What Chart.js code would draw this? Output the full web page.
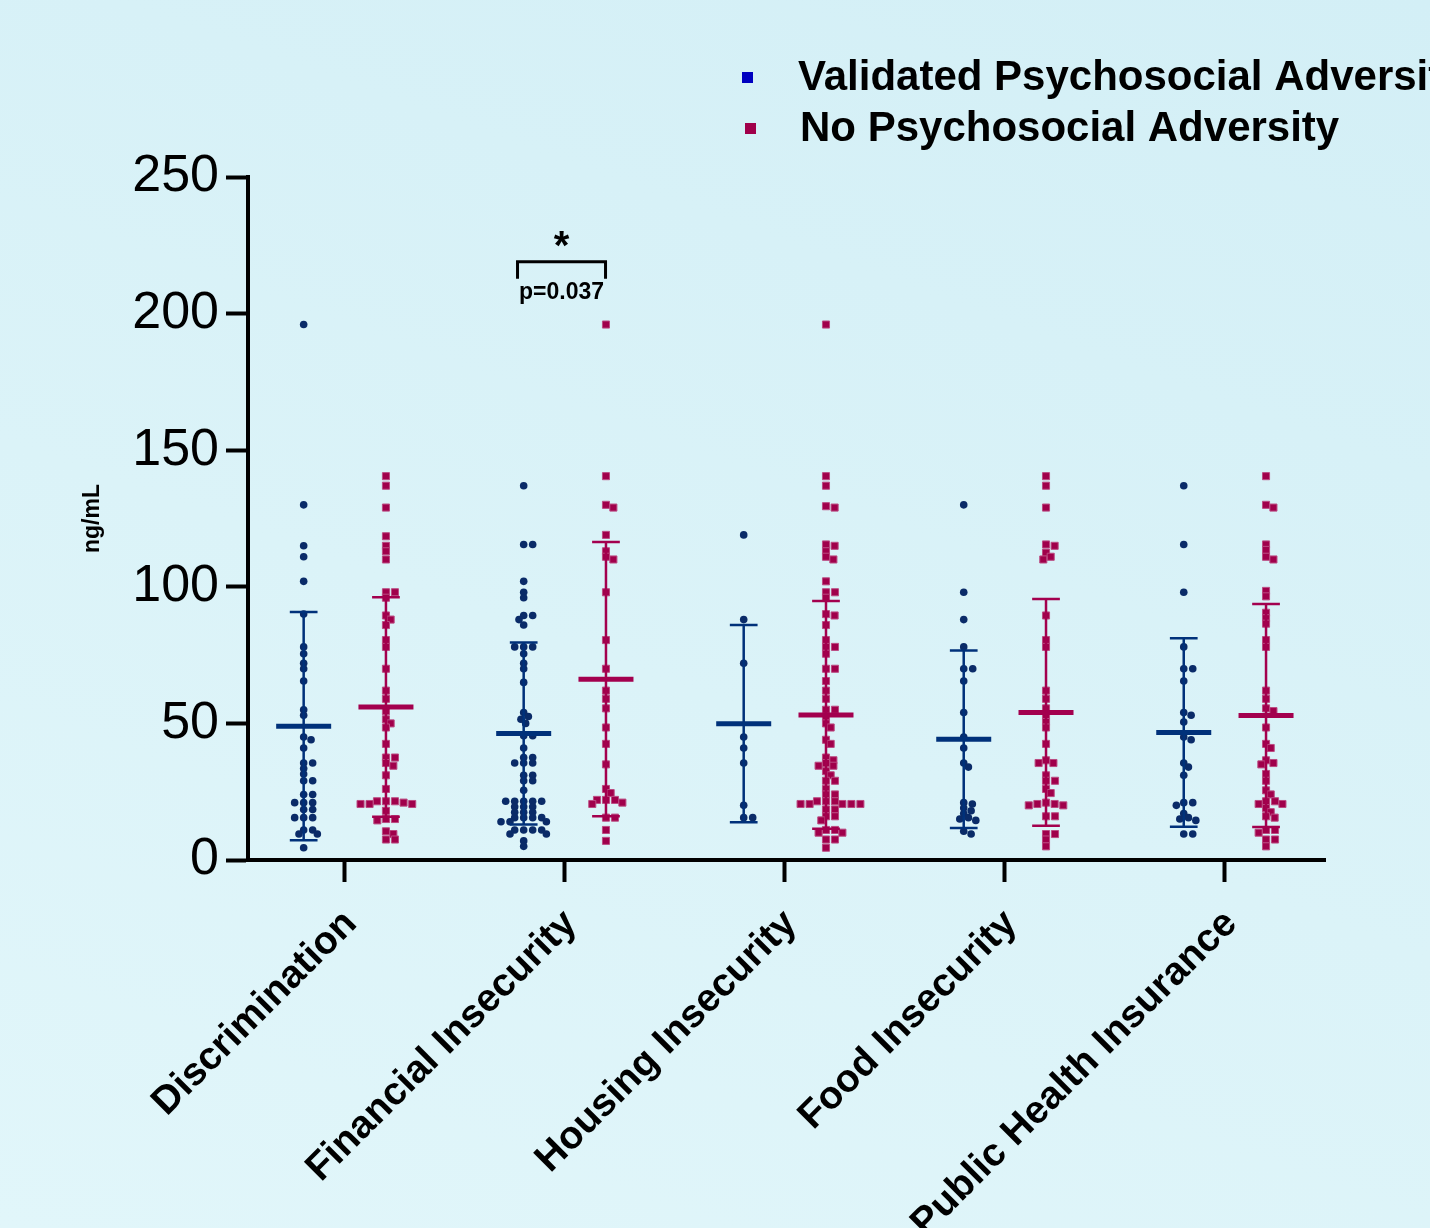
<!DOCTYPE html>
<html>
<head>
<meta charset="utf-8">
<script src="https://cdn.jsdelivr.net/npm/chart.js@4.4.1/dist/chart.umd.min.js"></script>
<style>
  html, body { margin: 0; padding: 0; }
  body {
    width: 1430px; height: 1228px; overflow: hidden;
    background: linear-gradient(200deg, #d3eff6 0%, #dbf3f8 55%, #e1f6fa 100%);
  }
  #wrap { position: relative; width: 1430px; height: 1228px; }
</style>
</head>
<body>
<div id="wrap"><canvas id="chart"></canvas></div>
<script>
// categories and group labels
const CATEGORIES = ['Discrimination', 'Financial Insecurity', 'Housing Insecurity', 'Food Insecurity', 'Public Health Insurance'];
const GROUP_LABELS = ['Validated Psychosocial Adversity', 'No Psychosocial Adversity'];
const Y_TICKS = [0, 50, 100, 150, 200, 250];

// ng/mL values, one array per category and group
const validatedDiscrimination = [196, 130, 115, 111, 102, 90, 78, 75.5, 72, 70, 65.5, 55, 53, 45, 44, 41, 35.5, 35.5, 33.5, 31.5, 29, 29, 24, 24, 21, 21, 21, 18.5, 18.5, 15.5, 15.5, 15.5, 11, 11, 9.5, 9.5, 4.5];
const noneDiscrimination = [140.5, 137, 129, 118.5, 115, 113, 110, 98, 98, 96, 89.5, 88, 86, 80.5, 78, 70, 62, 59, 54.5, 51.5, 50, 48.5, 42.5, 37.5, 37.5, 35.5, 34.5, 31, 26, 21.5, 21.5, 21.5, 21, 20.5, 20.5, 20.5, 18, 15, 15, 14.5, 10.5, 9.5, 7.5, 7.5];

const validatedFinancial = [137, 115.5, 115.5, 102, 98, 96, 89.5, 89.5, 88, 86, 78, 78, 78, 75.5, 72, 70, 65, 54, 52.5, 51.5, 50, 45.5, 45.5, 41, 37.5, 37.5, 35.5, 35.5, 35.5, 31, 31, 29, 29, 25.5, 21.5, 21.5, 21.5, 21.5, 21.5, 19.5, 19.5, 19.5, 17.5, 17.5, 17.5, 15.5, 15.5, 15.5, 15.5, 14, 14, 14, 11, 11, 11, 11, 9.5, 9.5, 7, 5];
const noneFinancial = [196, 140.5, 130, 129, 119, 113, 111, 110, 98, 80.5, 70, 62, 59, 55.5, 48.5, 42.5, 35, 26, 24.5, 22, 22, 22, 21, 20.5, 15.5, 15.5, 11, 7];

const validatedHousing = [119, 88, 72, 45, 41, 35.5, 20, 15.5, 15.5];
const noneHousing = [196, 140.5, 137, 129.5, 129, 115.5, 115, 113, 111, 110, 102, 98, 98, 96, 90, 89.5, 86, 80.5, 78, 78, 75.5, 70, 70, 65.5, 62, 59, 55, 55, 52, 50, 48.5, 44, 42.5, 37.5, 36.5, 35.5, 34.5, 34.5, 32.5, 31, 29, 29, 26, 24, 24, 21.5, 21.5, 21.5, 20.5, 20.5, 20.5, 20.5, 20.5, 18.5, 18.5, 16, 16, 14.5, 11, 11, 10, 10, 7.5, 7.5, 4.5];

const validatedFood = [130, 98, 88, 78, 70, 70, 65.5, 54, 45, 41, 35.5, 34, 21, 20.5, 19, 18, 17, 15.5, 15, 14.5, 10.5, 9.5];
const noneFood = [140.5, 137, 129, 115.5, 115, 112.5, 111, 110, 89.5, 80.5, 78, 62, 59, 55.5, 53, 50.5, 48.5, 42.5, 36.5, 35.5, 35.5, 31, 29, 29, 26, 24.5, 21, 20.5, 20.5, 20, 20, 16, 16, 9.5, 9.5, 7.5, 5];

const validatedPublic = [137, 115.5, 98, 78, 70, 70, 65.5, 54, 53, 50.5, 45, 44, 35.5, 34, 31, 21, 21, 20, 17, 15.5, 15, 14.5, 9.5, 9.5];
const nonePublic = [140.5, 130, 129, 115.5, 113.5, 111, 110, 98.5, 96.5, 90.5, 88.5, 86.5, 80.5, 78, 62, 59, 55.5, 54.5, 48.5, 42.5, 41, 36.5, 35.5, 35, 31.5, 29, 25.5, 24, 21.5, 21.5, 20.5, 20.5, 19, 17.5, 16, 15.5, 11, 11, 10, 7.5, 7.5, 5];

// mean and SD bars as drawn
const validatedMean = [49.0, 46.3, 49.9, 44.2, 46.7];
const validatedSD = [41.8, 33.3, 36.1, 32.5, 34.5];
const noneMean = [56.0, 66.2, 53.1, 54.0, 52.9];
const noneSD = [40.2, 50.2, 41.7, 41.5, 40.8];

const VALIDATED = [validatedDiscrimination, validatedFinancial, validatedHousing, validatedFood, validatedPublic];
const NONE = [noneDiscrimination, noneFinancial, noneHousing, noneFood, nonePublic];
const SERIES = [VALIDATED, NONE];
const MEANS = [validatedMean, noneMean];
const SDS = [validatedSD, noneSD];

// significance mark: Financial Insecurity
const SIG = { category: 1, y: 219, label: 'p=0.037' };

// look
const FONT = "'Liberation Sans', Arial, sans-serif";
const NARROW = "'Liberation Sans Narrow', 'Arial Narrow', 'Liberation Sans', Arial, sans-serif";
const DOT_COLORS = ['#0a2b68', '#a0004b'];
const BAR_COLORS = ['#00317a', '#a3004e'];
const LEGEND_COLORS = ['#0000c0', '#a0004a'];
const GROUP_OFFSET = [-0.187, 0.187];
const GAP_X = 9;
const GAP_Y = 4.8;

// beeswarm with an elliptical footprint: offsets in pixels, closest to the centre line
function swarm(values, yScale) {
  const pts = values.map(v => ({ y: yScale.getPixelForValue(v), x: 0 }));
  const order = pts.slice().sort((a, b) => a.y - b.y);
  const placed = [];
  const hits = (q, x, y) => ((q.x - x) / GAP_X) ** 2 + ((q.y - y) / GAP_Y) ** 2 < 0.999;
  for (const p of order) {
    const near = placed.filter(q => Math.abs(q.y - p.y) < GAP_Y);
    const cands = [0];
    near.forEach(q => {
      const dx = GAP_X * Math.sqrt(1 - ((q.y - p.y) / GAP_Y) ** 2);
      cands.push(q.x + dx, q.x - dx);
    });
    cands.sort((a, b) => Math.abs(a) - Math.abs(b));
    for (const c of cands) {
      if (!near.some(q => hits(q, c, p.y))) { p.x = c; break; }
    }
    placed.push(p);
  }
  return pts.map(p => p.x);
}

const meanSdPlugin = {
  id: 'meanSd',
  afterDatasetsDraw(chart) {
    const { ctx, scales: { x, y } } = chart;
    ctx.save();
    MEANS.forEach((means, g) => {
      ctx.strokeStyle = BAR_COLORS[g];
      means.forEach((m, i) => {
        const cx = x.getPixelForValue(i + GROUP_OFFSET[g]);
        const hw = x.getPixelForValue(0.125) - x.getPixelForValue(0);
        const cw = x.getPixelForValue(0.063) - x.getPixelForValue(0);
        const yTop = y.getPixelForValue(m + SDS[g][i]);
        const yBot = y.getPixelForValue(m - SDS[g][i]);
        const yM = y.getPixelForValue(m);
        ctx.lineWidth = 2.5;
        ctx.beginPath();
        ctx.moveTo(cx, yTop); ctx.lineTo(cx, yBot);
        ctx.moveTo(cx - cw, yTop); ctx.lineTo(cx + cw, yTop);
        ctx.moveTo(cx - cw, yBot); ctx.lineTo(cx + cw, yBot);
        ctx.stroke();
        ctx.lineWidth = 5;
        ctx.beginPath();
        ctx.moveTo(cx - hw, yM); ctx.lineTo(cx + hw, yM);
        ctx.stroke();
      });
    });
    ctx.restore();
  }
};

const sigPlugin = {
  id: 'sig',
  afterDraw(chart) {
    const { ctx, scales: { x, y } } = chart;
    const x1 = x.getPixelForValue(SIG.category - 0.215);
    const x2 = x.getPixelForValue(SIG.category + 0.185);
    const yb = y.getPixelForValue(SIG.y);
    const cx = (x1 + x2) / 2;
    ctx.save();
    ctx.strokeStyle = '#000';
    ctx.lineWidth = 3;
    ctx.beginPath();
    ctx.moveTo(x1, yb + 17); ctx.lineTo(x1, yb); ctx.lineTo(x2, yb); ctx.lineTo(x2, yb + 17);
    ctx.stroke();
    ctx.fillStyle = '#000';
    ctx.textAlign = 'center';
    ctx.textBaseline = 'middle';
    ctx.font = 'bold 40px ' + FONT;
    ctx.fillText('*', cx, yb - 14);
    ctx.font = 'bold 23px ' + NARROW;
    ctx.fillText(SIG.label, cx, yb + 31);
    ctx.restore();
  }
};

const legendPlugin = {
  id: 'customLegend',
  afterDraw(chart) {
    const { ctx } = chart;
    const rows = [{ sx: 742, y: 77, tx: 798 }, { sx: 745, y: 128, tx: 800 }];
    ctx.save();
    ctx.font = 'bold 42px ' + FONT;
    ctx.textBaseline = 'middle';
    chart.data.datasets.forEach((ds, g) => {
      const r = rows[g];
      ctx.fillStyle = LEGEND_COLORS[g];
      ctx.fillRect(r.sx, r.y - 5, 11, 11);
      ctx.fillStyle = '#000';
      ctx.fillText(ds.label, r.tx, r.y + 1);
    });
    ctx.restore();
  }
};

function buildData(g) {
  const pts = [];
  SERIES[g].forEach((vals, i) => vals.forEach(v => pts.push({ x: i + GROUP_OFFSET[g], y: v })));
  return pts;
}

const chart = new Chart(document.getElementById('chart'), {
  type: 'scatter',
  data: {
    datasets: [
      {
        label: GROUP_LABELS[0],
        data: buildData(0),
        pointStyle: 'circle',
        pointRadius: 3.8,
        pointBorderWidth: 0,
        backgroundColor: DOT_COLORS[0],
        borderColor: DOT_COLORS[0],
      },
      {
        label: GROUP_LABELS[1],
        data: buildData(1),
        pointStyle: 'rect',
        pointRadius: 5,
        pointBorderWidth: 1,
        backgroundColor: DOT_COLORS[1],
        borderColor: '#bb4b82',
      },
    ],
  },
  options: {
    responsive: true,
    maintainAspectRatio: false,
    animation: false,
    layout: { padding: { left: 0, top: 177, right: 105, bottom: 0 } },
    plugins: {
      legend: { display: false },
      tooltip: { enabled: false },
    },
    scales: {
      x: {
        type: 'linear',
        min: -0.44,
        max: 4.455,
        afterBuildTicks: (scale) => { scale.ticks = CATEGORIES.map((_, i) => ({ value: i })); },
        afterFit: (scale) => { scale.height = 368; },
        ticks: {
          autoSkip: false,
          minRotation: 45,
          maxRotation: 45,
          padding: 19,
          labelOffset: 6,
          color: '#000',
          font: { family: FONT, size: 39, weight: 'bold' },
          callback: (v) => CATEGORIES[v],
        },
        grid: { drawOnChartArea: false, drawTicks: true, tickLength: 22, tickWidth: 4, tickColor: '#000' },
        border: { display: true, width: 4, color: '#000' },
      },
      y: {
        min: 0,
        max: 250,
        afterBuildTicks: (scale) => { scale.ticks = Y_TICKS.map(v => ({ value: v })); },
        afterFit: (scale) => { scale.width = 248; },
        ticks: {
          padding: 7,
          color: '#000',
          font: { family: FONT, size: 52 },
        },
        title: {
          display: true,
          text: 'ng/mL',
          color: '#000',
          font: { family: NARROW, size: 23, weight: 'bold' },
          padding: { top: 79, bottom: 0 },
        },
        grid: { drawOnChartArea: false, drawTicks: true, tickLength: 22, tickWidth: 4, tickColor: '#000' },
        border: { display: true, width: 4, color: '#000' },
      },
    },
  },
  plugins: [meanSdPlugin, sigPlugin, legendPlugin],
});

// spread the dots sideways once the scales are known
(function applySwarm() {
  const xs = chart.scales.x, ys = chart.scales.y;
  const pxPerUnit = xs.getPixelForValue(1) - xs.getPixelForValue(0);
  chart.data.datasets.forEach((ds, g) => {
    const pts = [];
    SERIES[g].forEach((vals, i) => {
      const offs = swarm(vals, ys);
      vals.forEach((v, k) => pts.push({ x: i + GROUP_OFFSET[g] + offs[k] / pxPerUnit, y: v }));
    });
    ds.data = pts;
  });
  chart.update('none');
})();
</script>
</body>
</html>
